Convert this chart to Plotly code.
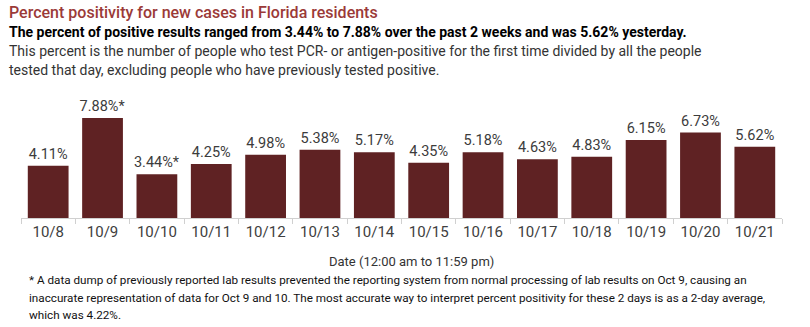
import plotly.graph_objects as go

dates = ["10/8", "10/9", "10/10", "10/11", "10/12", "10/13", "10/14",
         "10/15", "10/16", "10/17", "10/18", "10/19", "10/20", "10/21"]
values = [4.11, 7.88, 3.44, 4.25, 4.98, 5.38, 5.17,
          4.35, 5.18, 4.63, 4.83, 6.15, 6.73, 5.62]
flags = ["", "*", "*", "", "", "", "", "", "", "", "", "", "", ""]

title = "Percent positivity for new cases in Florida residents"
subtitle = ("The percent of positive results ranged from 3.44% to 7.88% over the past 2 weeks "
            "and was 5.62% yesterday.")
desc1 = ("This percent is the number of people who test PCR- or antigen-positive for the first "
         "time divided by all the people")
desc2 = "tested that day, excluding people who have previously tested positive."
xtitle = "Date (12:00 am to 11:59 pm)"
foot1 = ("* A data dump of previously reported lab results prevented the reporting system from "
         "normal processing of lab results on Oct 9, causing an")
foot2 = ("inaccurate representation of data for Oct 9 and 10. The most accurate way to interpret "
         "percent positivity for these 2 days is as a 2-day average,")
foot3 = "which was 4.22%."

W, H = 810, 327
L, R, T, B = 21, 782, 90, 218
FONT = "Roboto, Liberation Sans, sans-serif"

labels = [f"{v:.2f}%{f}" for v, f in zip(values, flags)]

fig = go.Figure(go.Bar(
    x=dates, y=values, text=labels, textposition="outside",
    marker=dict(color="#5F2223", line=dict(width=0)),
    textfont=dict(family=FONT, size=14.5, color="#3c3c3c"),
    constraintext="none",
    cliponaxis=False, hoverinfo="skip",
))

def px(x):
    return (x - L) / (R - L)

def py(y):
    return (B - y) / (B - T)

anns = [
    (title, 7, 12, 16, "#9B3A38", 500),
    (subtitle, 7, 32, 14, "#000000", 700),
    (desc1, 7, 51, 14, "#333333", 400),
    (desc2, 7, 70, 14, "#333333", 400),
    (foot1, 27, 280, 11.7, "#111111", 400),
    (foot2, 27, 298, 11.7, "#111111", 400),
    (foot3, 27, 315, 11.7, "#111111", 400),
]
annotations = []
for txt, x, y, size, color, weight in anns:
    annotations.append(dict(
        text=txt,
        x=px(x), y=py(y), xref="paper", yref="paper",
        xanchor="left", yanchor="middle", showarrow=False,
        font=dict(family=FONT, size=size, color=color, weight=weight),
    ))
annotations.append(dict(
    text=xtitle, x=px(411), y=py(261), xref="paper", yref="paper",
    xanchor="center", yanchor="middle", showarrow=False,
    font=dict(family=FONT, size=13, color="#333333"),
))

fig.update_layout(
    width=W, height=H,
    margin=dict(l=L, r=W - R, t=T, b=H - B, pad=0),
    plot_bgcolor="white", paper_bgcolor="white",
    bargap=0.25, showlegend=False,
    annotations=annotations,
    xaxis=dict(
        showline=True, linecolor="#d0d0d0", linewidth=1,
        ticks="outside", tickson="boundaries", ticklen=5, tickcolor="#d0d0d0",
        tickfont=dict(family=FONT, size=15, color="#404040"),
        showgrid=False, fixedrange=True,
    ),
    yaxis=dict(
        range=[0, (B - T) / 12.7], visible=False, showgrid=False, fixedrange=True,
    ),
)

fig.write_html("out.html")
